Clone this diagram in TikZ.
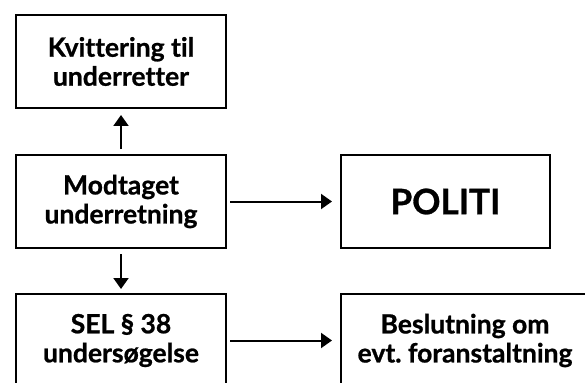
\documentclass[tikz,border=0pt]{standalone}
\usepackage{fontspec}
\setmainfont[Ligatures={NoCommon}, BoldFeatures={FakeBold=0.8}]{Lato}
\usetikzlibrary{arrows.meta}
\frenchspacing
\tikzset{
    boks/.style={draw, line width=2pt, minimum width=210pt, minimum height=93pt,
        align=center, font=\fontsize{26.5}{29}\selectfont\bfseries, inner sep=0pt},
    pil/.style={line width=2pt, -{Triangle[length=11pt,width=15pt]}}
}
\begin{document}
\begin{tikzpicture}[x=1pt, y=1pt]
    \useasboundingbox (0,0) rectangle (585,-382);
    \node[boks] (kvit) at (121,-61.5) {Kvittering til\\underretter};
    \node[boks] (modt) at (121,-201.5) {Modtaget\\underretning};
    \node[boks] (sel) at (121,-340.5) {SEL \S\ 38\\undersøgelse};
    \node[boks, minimum width=209pt, font=\fontsize{35}{38}\selectfont\bfseries] (politi) at (445.5,-201.5) {POLITI};
    \node[boks, minimum width=248pt] (beslut) at (465,-340.5) {Beslutning om\\evt. foranstaltning};
    \draw[pil, shorten <=5pt, shorten >=6pt] (modt) -- (kvit);
    \draw[pil, shorten <=5pt, shorten >=4pt] (modt) -- (sel);
    \draw[pil, shorten <=3pt, shorten >=8pt] (modt) -- (politi);
    \draw[pil, shorten <=3pt, shorten >=8pt] (sel) -- (beslut);
\end{tikzpicture}
\end{document}
